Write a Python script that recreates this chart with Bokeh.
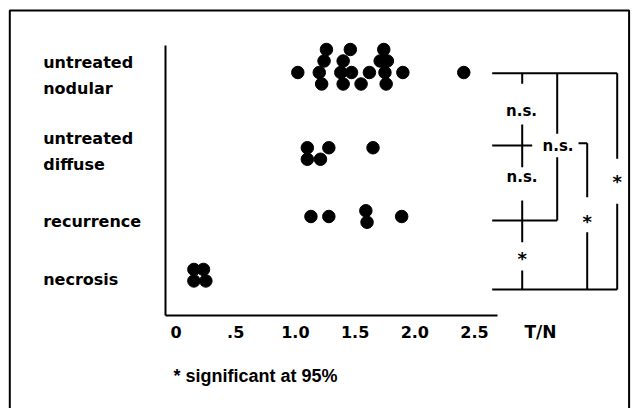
from bokeh.plotting import figure
from bokeh.models import LinearAxis, FixedTicker, BoxAnnotation, Range1d
from bokeh.core.properties import value
from bokeh.embed import file_html
from bokeh.resources import INLINE

# ---------------- data (T/N ratios) ----------------
CATEGORIES = ["untreated\nnodular", "untreated\ndiffuse", "recurrence", "necrosis"]

NODULAR_TN = [1.26, 1.46, 1.74,
              1.24, 1.40, 1.71, 1.77,
              1.02, 1.20, 1.38, 1.47, 1.62, 1.75, 1.90, 2.41,
              1.22, 1.40, 1.55, 1.76]
NODULAR_STACK = [2, 2, 2, 1, 1, 1, 1, 0, 0, 0, 0, 0, 0, 0, 0, -1, -1, -1, -1]

DIFFUSE_TN = [1.10, 1.28, 1.65, 1.10, 1.21]
DIFFUSE_STACK = [0.5, 0.5, 0.5, -0.5, -0.5]

RECURRENCE_TN = [1.13, 1.28, 1.59, 1.60, 1.89]
RECURRENCE_STACK = [0, 0, 0.5, -0.5, 0]

NECROSIS_TN = [0.15, 0.23, 0.15, 0.25]
NECROSIS_STACK = [0.5, 0.5, -0.5, -0.5]

TICK_VALUES = [0, 0.5, 1.0, 1.5, 2.0, 2.5]
TICK_LABELS = ["0", ".5", "1.0", "1.5", "2.0", "2.5"]
X_TITLE = "T/N"
FOOTNOTE = "* significant at 95%"
NS = "n.s."
SIG = "*"

# ---------------- layout ----------------
W, H = 636, 408
MARGIN = 0                # the Bokeh page template has no body margin
PX_PER_X = 119.4          # pixels per T/N unit
X0_PX = 175.5             # canvas x of T/N = 0
PX_PER_Y = 11.5           # one stacking step

def xd(page_x):
    return (page_x - MARGIN - X0_PX) / PX_PER_X

def yd(page_y):
    return (H + MARGIN - page_y) / PX_PER_Y

p = figure(width=W, height=H,
           x_range=Range1d(-X0_PX / PX_PER_X, (W - X0_PX) / PX_PER_X),
           y_range=Range1d(0, H / PX_PER_Y),
           x_axis_location=None, y_axis_location=None,
           toolbar_location=None, output_backend="svg",
           min_border=0, outline_line_color=None,
           background_fill_color="white", border_fill_color="white")
p.grid.visible = False

# frame border
p.add_layout(BoxAnnotation(left=xd(9.3), right=xd(628.6), top=yd(10), bottom=yd(440),
                           fill_alpha=0, line_color="black", line_alpha=1.0, line_width=2))

# axes
AX_X = xd(164.5)
AX_Y = yd(314.5)
xaxis = LinearAxis(fixed_location=AX_Y, bounds=(AX_X, xd(497)),
                   ticker=FixedTicker(ticks=TICK_VALUES),
                   major_label_overrides={v: l for v, l in zip(TICK_VALUES, TICK_LABELS)},
                   axis_line_width=2, axis_line_color="black",
                   major_tick_line_color=None, minor_tick_line_color=None,
                   major_tick_in=0, major_tick_out=0,
                   major_label_text_font="DejaVu Sans",
                   major_label_text_font_style="bold",
                   major_label_text_font_size="16px",
                   major_label_text_color="black",
                   major_label_standoff=11)
p.add_layout(xaxis, "below")
yaxis = LinearAxis(fixed_location=AX_X, bounds=(AX_Y, yd(45)),
                   ticker=FixedTicker(ticks=[]),
                   axis_line_width=2, axis_line_color="black",
                   major_tick_line_color=None, minor_tick_line_color=None,
                   major_tick_in=0, major_tick_out=0,
                   major_label_text_font_size="0px")
p.add_layout(yaxis, "left")

# dot rows
ROW_Y = [yd(72), yd(153), yd(216), yd(274.7)]
series = [(NODULAR_TN, NODULAR_STACK), (DIFFUSE_TN, DIFFUSE_STACK),
          (RECURRENCE_TN, RECURRENCE_STACK), (NECROSIS_TN, NECROSIS_STACK)]
xs, ys = [], []
for row, (vals, stack) in zip(ROW_Y, series):
    xs += vals
    ys += [row + s for s in stack]
p.scatter(xs, ys, size=12.5, marker="circle", fill_color="black", line_color="black")

# category labels
LABEL_Y = [yd(75.3), yd(151), yd(220.8), yd(279)]
p.text(x=[xd(42.7)] * 4, y=LABEL_Y, text=CATEGORIES,
       text_font=value("DejaVu Sans"), text_font_style="bold", text_font_size="16px",
       text_align="left", text_baseline="middle", text_line_height=1.35, text_color="black")

# axis title
p.text(x=[xd(540)], y=[yd(331.5)], text=[X_TITLE],
       text_font=value("DejaVu Sans"), text_font_style="bold", text_font_size="17px",
       text_align="center", text_baseline="middle", text_color="black")

# footnote
p.text(x=[xd(173)], y=[yd(375.5)], text=[FOOTNOTE],
       text_font=value("Liberation Sans"), text_font_style="bold", text_font_size="18px",
       text_align="left", text_baseline="middle", text_color="black")

# significance brackets
BY = {"nod": 72.7, "dif": 145, "rec": 220, "nec": 289}
C1, C2, C3, C4, XL = 521.7, 556.7, 586.7, 616.7, 491.7
segs = [
    # horizontals
    (XL, BY["nod"], C4, BY["nod"]),
    (XL, BY["dif"], 531.7, BY["dif"]),
    (578, 142.7, C3, 142.7),
    (XL, BY["rec"], C2, BY["rec"]),
    (XL, BY["nec"], C4, BY["nec"]),
    # column 1
    (C1, BY["nod"], C1, 83.3), (C1, 124, C1, 166.7), (C1, 200, C1, 241.7), (C1, 270, C1, BY["nec"]),
    # column 2
    (C2, BY["nod"], C2, 133.3), (C2, 156.7, C2, BY["rec"]),
    # column 3
    (C3, 142.7, C3, 196.7), (C3, 231.7, C3, BY["nec"]),
    # column 4
    (C4, BY["nod"], C4, 158.3), (C4, 203.3, C4, BY["nec"]),
]
p.segment(x0=[xd(s[0]) for s in segs], y0=[yd(s[1]) for s in segs],
          x1=[xd(s[2]) for s in segs], y1=[yd(s[3]) for s in segs],
          line_color="black", line_width=2)

ns_pos = [(521, 110), (521.5, 176.7), (557.5, 145)]
p.text(x=[xd(a) for a, b in ns_pos], y=[yd(b) for a, b in ns_pos], text=[NS] * 3,
       text_font=value("DejaVu Sans"), text_font_style="bold", text_font_size="15px",
       text_align="center", text_baseline="middle", text_color="black")

sig_pos = [(C1, 256.7), (C3, 220), (C4, 180)]
p.text(x=[xd(a) for a, b in sig_pos], y=[yd(b) for a, b in sig_pos], text=[SIG] * 3,
       text_font=value("DejaVu Sans"), text_font_style="bold", text_font_size="18px",
       text_align="center", text_baseline="middle", y_offset=1, text_color="black")

open("out.html", "w").write(file_html(p, INLINE))
